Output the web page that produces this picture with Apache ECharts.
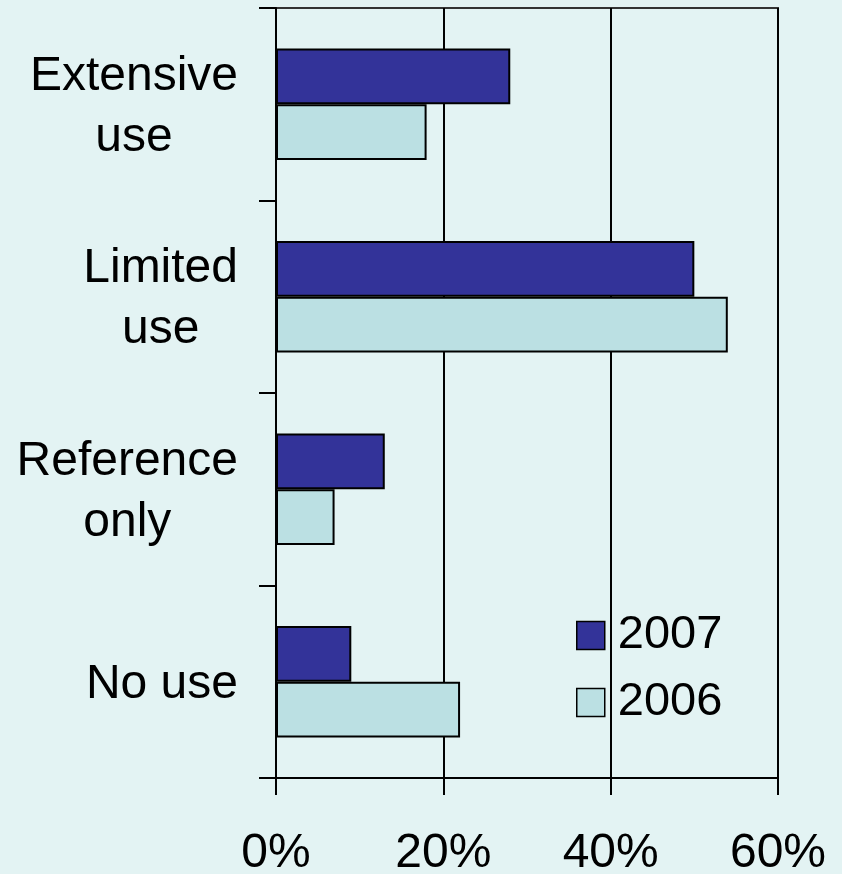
<!DOCTYPE html>
<html><head><meta charset="utf-8">
<script src="https://cdn.jsdelivr.net/npm/echarts@6/dist/echarts.min.js"></script>
<style>html,body{margin:0;padding:0;background:#E3F3F3;}#c{width:842px;height:874px;}</style>
</head><body><div id="c"></div>
<script>
const categories = ['Extensive\nuse', 'Limited\nuse', 'Reference\nonly', 'No use'];
const seriesNames = ['2007', '2006'];
const values2007 = [28, 50, 13, 9];
const values2006 = [18, 54, 7, 22];
const xTicks = [0, 20, 40, 60];

const chart = echarts.init(document.getElementById('c'));
const font = '"Liberation Sans", Arial, sans-serif';
chart.setOption({
  backgroundColor: '#E3F3F3',
  animation: false,
  grid: { left: 276, right: 64, top: 8, bottom: 96, outerBoundsMode: 'none', containLabel: false,
          show: true, borderColor: '#333', borderWidth: 2, backgroundColor: 'transparent' },
  legend: {
    orient: 'vertical', left: 571, top: 607,
    itemWidth: 28, itemHeight: 28, itemGap: 20,
    icon: 'rect',
    data: seriesNames,
    textStyle: { fontFamily: font, fontSize: 47, color: '#000', padding: [0, 0, 0, 8] },
    itemStyle: { borderColor: '#000', borderWidth: 1.5 }
  },
  xAxis: {
    type: 'value', min: xTicks[0], max: xTicks[xTicks.length - 1], interval: 20,
    axisLine: { show: true, lineStyle: { color: '#000', width: 2 } },
    axisTick: { show: true, length: 17, lineStyle: { color: '#000', width: 2 } },
    splitLine: { show: true, lineStyle: { color: '#000', width: 2 } },
    axisLabel: { formatter: '{value}%', fontFamily: font, fontSize: 48, color: '#000', margin: 52 }
  },
  yAxis: {
    type: 'category', inverse: true, data: categories,
    axisLine: { show: true, lineStyle: { color: '#000', width: 2 } },
    axisTick: { show: true, length: 17, lineStyle: { color: '#000', width: 2 } },
    axisLabel: {
      margin: 38, align: 'right', padding: [6, 0, 0, 0],
      formatter: function (v) { return v.split('\n').map(s => '{c|' + s + '}').join('\n'); },
      rich: { c: { align: 'center', fontFamily: font, fontSize: 48, lineHeight: 61, color: '#000' } }
    }
  },
  series: [
    { name: seriesNames[0], type: 'bar', data: values2007, barGap: '0%', barCategoryGap: '42%',
      itemStyle: { color: '#333399', borderColor: '#000', borderWidth: 2 } },
    { name: seriesNames[1], type: 'bar', data: values2006, barGap: '0%', barCategoryGap: '42%',
      itemStyle: { color: '#BBE0E3', borderColor: '#000', borderWidth: 2 } }
  ]
});
</script></body></html>
